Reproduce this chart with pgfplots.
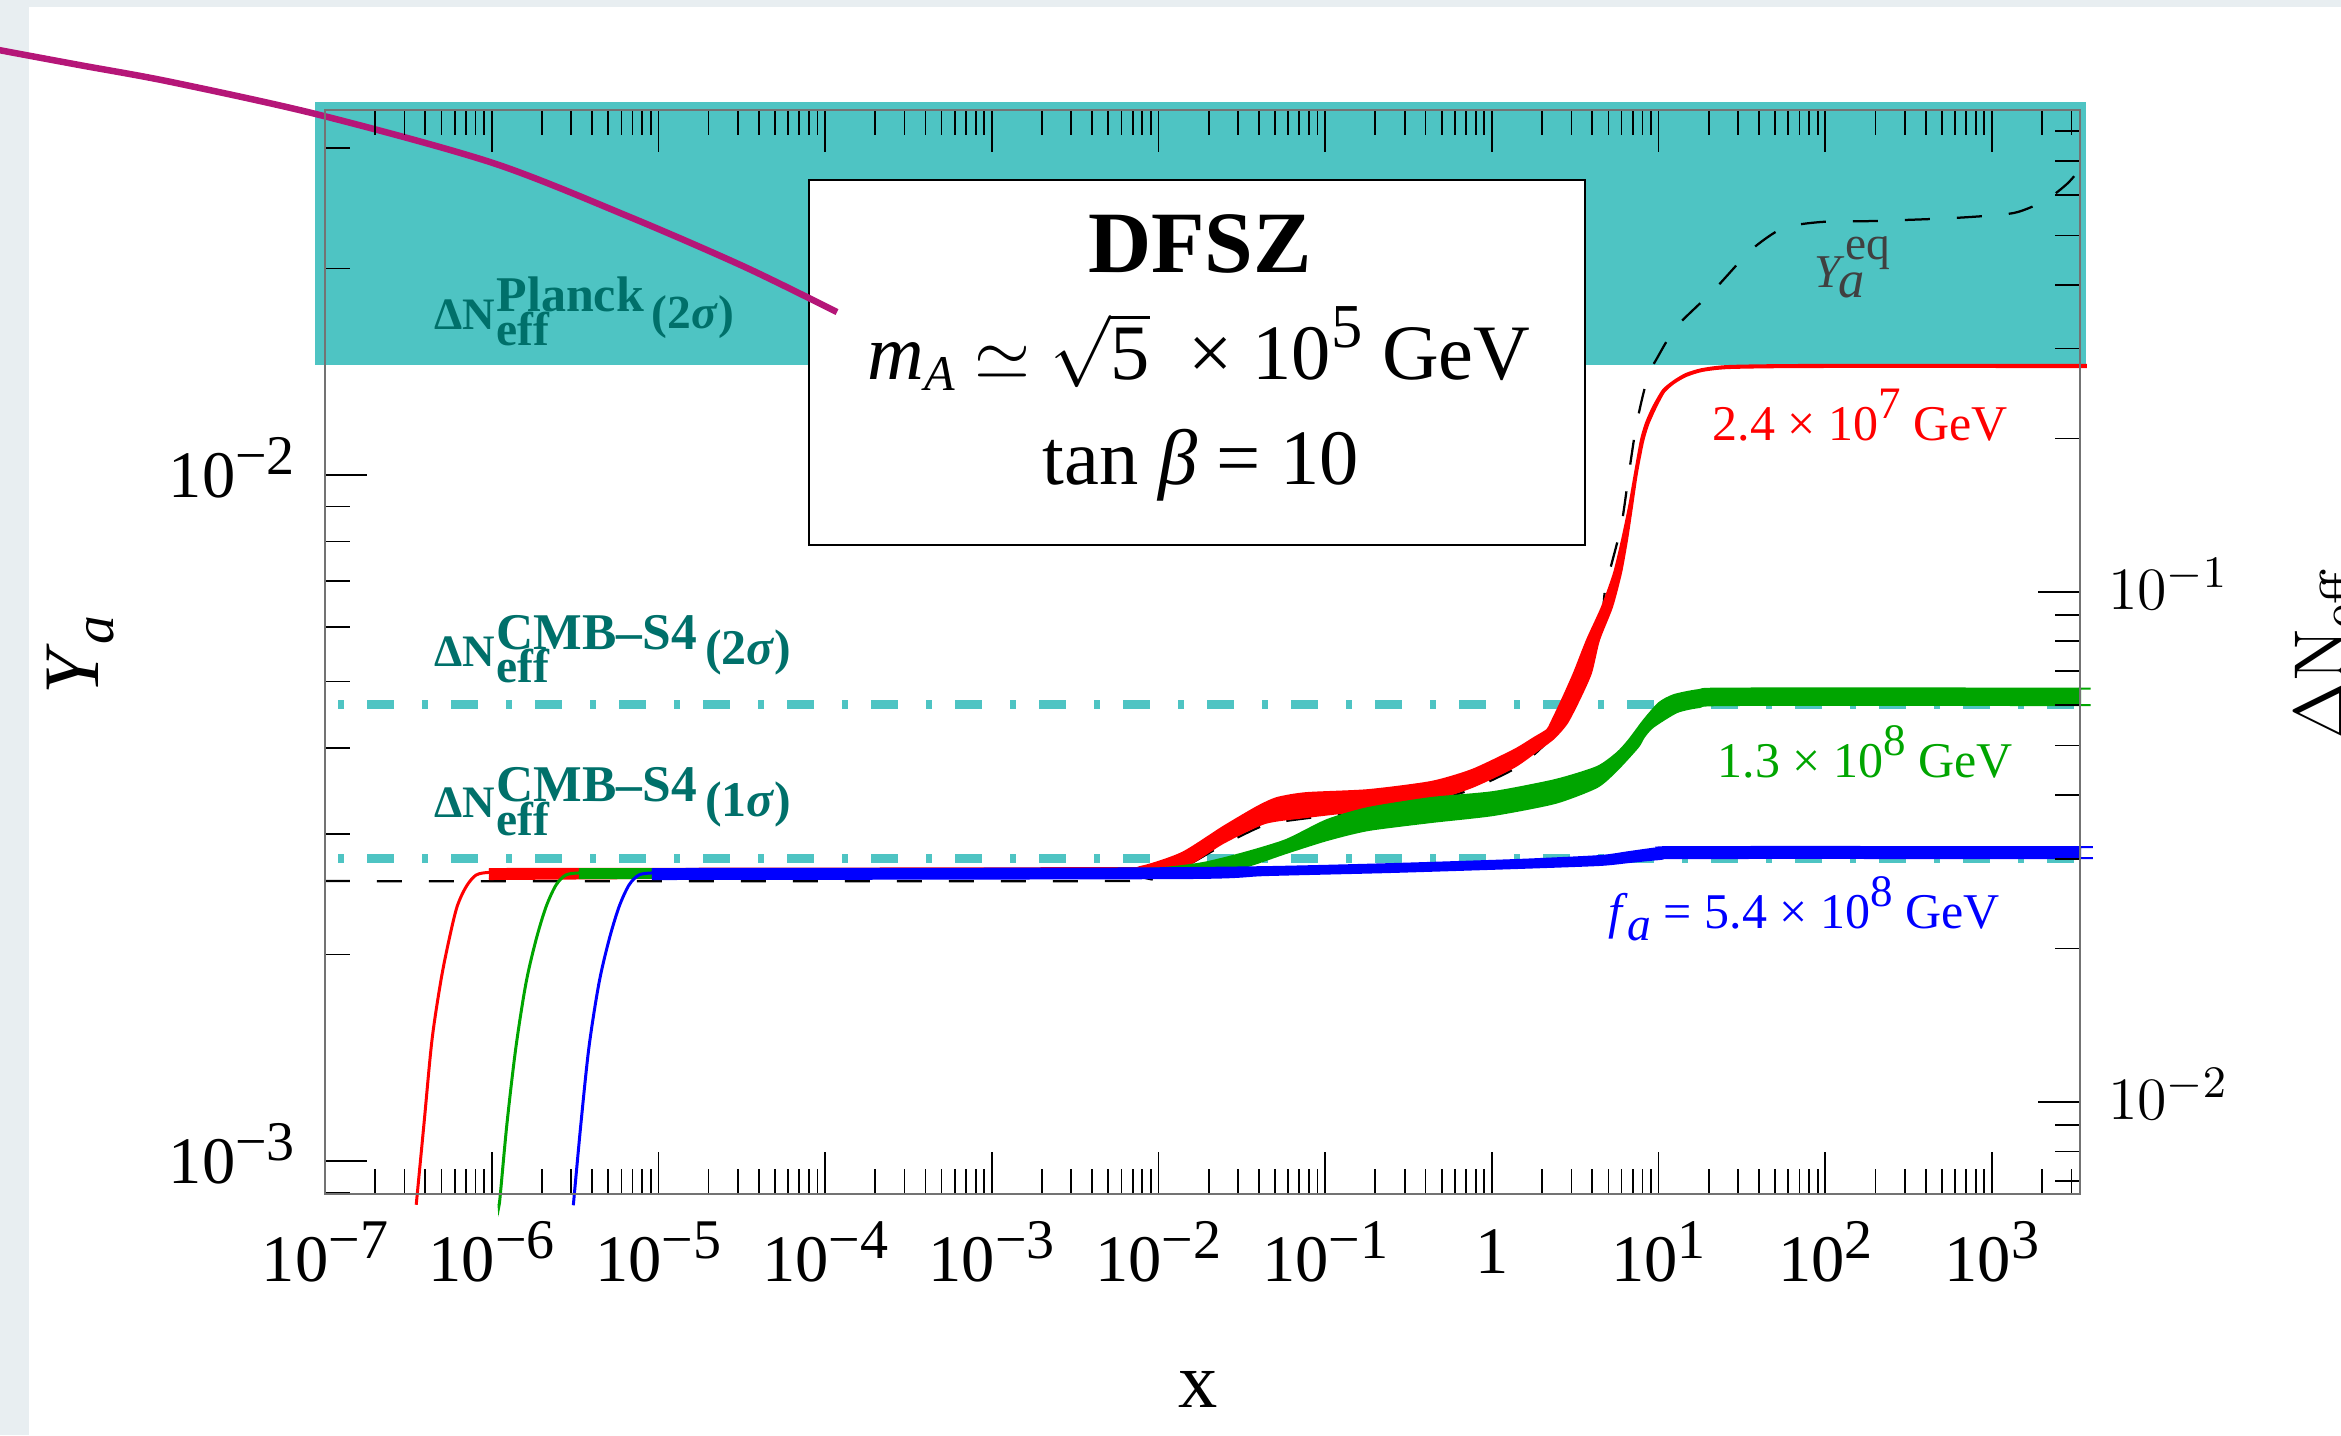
\documentclass[border=0pt]{standalone}
\usepackage[no-math]{fontspec}
\setmainfont{Liberation Serif}
\usepackage{graphicx}
\usepackage{pgfplots}
\pgfplotsset{compat=1.18}

\definecolor{band}{RGB}{78,196,195}
\definecolor{dteal}{RGB}{0,112,106}
\definecolor{mag}{RGB}{181,22,120}
\definecolor{mgreen}{RGB}{0,165,0}
\definecolor{bgstrip}{RGB}{232,238,241}
\definecolor{eqgray}{RGB}{64,64,64}

\newcommand{\tlab}[1]{{\fontsize{13.3}{14}\selectfont 10\raisebox{0.35em}{\fontsize{11.2}{12}\selectfont #1}}}
\newcommand{\supx}[1]{\raisebox{0.45em}{\fontsize{9}{9}\selectfont #1}}
\newcommand{\rlab}[1]{{\fontsize{12.4}{14}\selectfont$10^{#1}$}}
% #1 superscript, #2 its size, #3 raise, #4 subscript drop, #5 sigma text, #6 its size, #7 its raise
\newcommand{\dnlab}[7]{{\bfseries\fontsize{9}{10}\selectfont ΔN\kern0.4pt\rlap{\raisebox{-#4}{\fontsize{9.5}{10}\selectfont eff}}\raisebox{#3}{\fontsize{#2}{10}\selectfont #1}\kern1.6pt\raisebox{#7}{\fontsize{#6}{10}\selectfont (#5\textit{σ})}}}

\begin{document}
\begin{tikzpicture}
\useasboundingbox (0,0) rectangle (468.2pt,287pt);
\clip (0,0) rectangle (468.2pt,287pt);
\fill[bgstrip] (0,0) rectangle (5.8pt,287pt);
\fill[bgstrip] (0,285.6pt) rectangle (468.2pt,287pt);

\begin{axis}[
  at={(65pt,48.2pt)}, anchor=south west,
  width=351pt, height=216.8pt, scale only axis,
  xmode=log, ymode=log,
  xmin=1e-7, xmax=3373, ymin=8.952e-4, ymax=3.405e-2,
  axis on top, clip=false,
  axis line style={black!55, line width=0.45pt},
  tick style={black, line width=0.35pt},
  major tick length=8.5pt, minor tick length=5pt,
  tick align=inside,
  xtick pos=both, ytick pos=left,
  xtick={1e-7,1e-6,1e-5,1e-4,1e-3,1e-2,1e-1,1,1e1,1e2,1e3},
  xticklabels={\tlab{−7},\tlab{−6},\tlab{−5},\tlab{−4},\tlab{−3},\tlab{−2},\tlab{−1},{\fontsize{13.3}{14}\selectfont 1},\tlab{1},\tlab{2},\tlab{3}},
  minor xtick={2e-7,3e-7,4e-7,5e-7,6e-7,7e-7,8e-7,9e-7,
    2e-6,3e-6,4e-6,5e-6,6e-6,7e-6,8e-6,9e-6,
    2e-5,3e-5,4e-5,5e-5,6e-5,7e-5,8e-5,9e-5,
    2e-4,3e-4,4e-4,5e-4,6e-4,7e-4,8e-4,9e-4,
    2e-3,3e-3,4e-3,5e-3,6e-3,7e-3,8e-3,9e-3,
    2e-2,3e-2,4e-2,5e-2,6e-2,7e-2,8e-2,9e-2,
    0.2,0.3,0.4,0.5,0.6,0.7,0.8,0.9,
    2,3,4,5,6,7,8,9,
    20,30,40,50,60,70,80,90,
    200,300,400,500,600,700,800,900,
    2000,3000},
  ytick={1e-3,1e-2},
  yticklabels={\tlab{−3},\tlab{−2}},
  minor ytick={9e-4,2e-3,3e-3,4e-3,5e-3,6e-3,7e-3,8e-3,9e-3,2e-2,3e-2},
  xticklabel style={anchor=center, inner sep=0pt, yshift=-11.6pt},
  yticklabel style={anchor=east, inner sep=0pt, xshift=-5.8pt, yshift=1.5pt},
]
% Planck 2 sigma band
\addplot[fill=band, draw=none] coordinates {(8.71e-8,1.447e-2) (3664,1.447e-2) (3664,3.498e-2) (8.71e-8,3.498e-2)} -- cycle;
% CMB-S4 lines
\addplot[band, line width=1.8pt, dash pattern=on 1.2pt off 4.6pt on 5.4pt off 5.6pt] coordinates {(1.197e-7,4.636e-3) (3664,4.636e-3)};
\addplot[band, line width=1.8pt, dash pattern=on 1.2pt off 4.6pt on 5.4pt off 5.6pt] coordinates {(1.197e-7,2.765e-3) (3664,2.765e-3)};
% Y_a^eq
\addplot[black, line width=0.45pt, dash pattern=on 5pt off 5.4pt, smooth, tension=0.4] coordinates {
(1e-7,2.559e-3) (4.396e-3,2.559e-3) (8.770e-3,2.585e-3) (1.383e-2,2.673e-3) (2.437e-2,2.888e-3)
(4.354e-2,3.089e-3) (7.885e-2,3.162e-3) (1.370e-1,3.204e-3) (2.414e-1,3.259e-3) (4.312e-1,3.337e-3)
(7.597e-1,3.485e-3) (1.357,3.728e-3) (1.917,3.973e-3) (2.821,4.424e-3) (3.824,5.374e-3)
(4.576,6.147e-3) (4.80,6.844e-3) (5.949,8.399e-3) (6.643,1.0067e-2) (7.318,1.175e-2)
(8.061,1.308e-2) (8.756,1.408e-2) (9.647,1.471e-2) (12.72,1.643e-2) (21.49,1.861e-2)
(35.84,2.128e-2) (55.76,2.291e-2) (94.24,2.338e-2) (198.7,2.346e-2) (599.9,2.370e-2)
(1355,2.410e-2) (2108,2.517e-2) (2857,2.665e-2) (3664,2.860e-2)};
% red f_a = 2.4e7
\addplot[red, line width=0.6pt, smooth, tension=0.5] coordinates {
(3.529e-7,8.656e-4) (3.563e-7,8.862e-4) (3.93e-7,1.136e-3) (4.384e-7,1.501e-3) (4.965e-7,1.836e-3)
(5.545e-7,2.100e-3) (6.192e-7,2.346e-3) (7.011e-7,2.509e-3) (8.050e-7,2.611e-3) (9.634e-7,2.635e-3) (1.2e-6,2.630e-3)};
\addplot[red, fill=red, line width=0.4pt, smooth, tension=0.4] coordinates {
(9.634e-7,2.665e-3) (4.396e-3,2.673e-3) (7.747e-3,2.683e-3) (1.383e-2,2.812e-3) (2.437e-2,3.068e-3)
(3.899e-2,3.281e-3) (5.139e-2,3.382e-3) (7.670e-2,3.438e-3) (1.806e-1,3.473e-3) (4.312e-1,3.569e-3)
(7.597e-1,3.716e-3) (1.357,3.973e-3) (1.789,4.137e-3) (2.141,4.249e-3) (2.263,4.350e-3) (2.633,4.699e-3) (3.108,5.145e-3)
(3.720,5.747e-3) (4.576,6.422e-3) (5.401,7.196e-3) (6.032,8.038e-3) (6.643,8.983e-3)
(7.217,1.0067e-2) (7.841,1.125e-2) (8.403,1.191e-2) (9.255,1.256e-2) (10.63,1.330e-2)
(12.37,1.371e-2) (14.60,1.404e-2) (18.22,1.427e-2) (26.44,1.442e-2) (79.83,1.447e-2) (3000,1.447e-2) (3340,1.447e-2) (3373,1.447e-2)
(3373,1.437e-2) (3340,1.437e-2) (3000,1.437e-2) (79.83,1.437e-2) (26.44,1.432e-2) (18.22,1.418e-2) (14.60,1.394e-2)
(12.37,1.362e-2) (10.78,1.321e-2) (9.515,1.248e-2) (8.638,1.183e-2) (8.061,1.117e-2)
(7.420,1.0067e-2) (6.924,8.983e-3) (6.463,8.038e-3) (5.949,7.196e-3) (5.254,6.422e-3)
(4.390,5.747e-3) (3.931,5.145e-3) (3.329,4.699e-3) (2.821,4.350e-3) (2.358,4.137e-3) (1.891,3.973e-3)
(1.357,3.753e-3) (7.597e-1,3.509e-3) (4.312e-1,3.359e-3) (2.414e-1,3.281e-3) (1.370e-1,3.226e-3)
(7.670e-2,3.173e-3) (4.354e-2,3.110e-3) (2.437e-2,2.908e-3) (1.383e-2,2.673e-3) (7.747e-3,2.630e-3)
(4.396e-3,2.611e-3) (9.634e-7,2.577e-3)};
% green f_a = 1.3e8
\addplot[mgreen, line width=0.6pt, smooth, tension=0.5] coordinates {
(1.106e-6,8.656e-4) (1.1215e-6,8.833e-4) (1.236e-6,1.136e-3) (1.398e-6,1.466e-3) (1.606e-6,1.817e-3)
(1.844e-6,2.100e-3) (2.117e-6,2.346e-3) (2.431e-6,2.525e-3) (2.790e-6,2.612e-3) (3.339e-6,2.630e-3) (4e-6,2.625e-3)};
\addplot[mgreen, fill=mgreen, line width=0.4pt, smooth, tension=0.4] coordinates {
(3.339e-6,2.665e-3) (4.396e-3,2.665e-3) (1.035e-2,2.673e-3) (1.849e-2,2.719e-3) (3.258e-2,2.812e-3)
(5.820e-2,2.937e-3) (1.025e-1,3.141e-3) (1.806e-1,3.270e-3) (4.312e-1,3.382e-3) (1.015,3.450e-3)
(2.391,3.592e-3) (4.271,3.753e-3) (5.629,3.934e-3) (6.643,4.109e-3) (8.172,4.394e-3)
(10.06,4.652e-3) (12.37,4.778e-3) (17.47,4.859e-3) (27.56,4.884e-3) (3000,4.884e-3) (3340,4.884e-3) (3373,4.884e-3)
(3373,4.621e-3) (3340,4.621e-3) (3000,4.621e-3) (27.56,4.621e-3) (17.6,4.590e-3) (12.90,4.513e-3) (9.255,4.293e-3)
(8.172,4.151e-3) (7.523,4.013e-3) (5.629,3.716e-3) (4.271,3.509e-3) (2.391,3.326e-3)
(1.015,3.194e-3) (4.312e-1,3.120e-3) (1.806e-1,3.037e-3) (1.025e-1,2.937e-3) (5.820e-2,2.812e-3)
(3.258e-2,2.683e-3) (1.849e-2,2.630e-3) (1.035e-2,2.603e-3) (4.396e-3,2.594e-3) (3.339e-6,2.585e-3)};
% blue f_a = 5.4e8
\addplot[blue, line width=0.6pt, smooth, tension=0.5] coordinates {
(3.095e-6,8.656e-4) (3.117e-6,8.833e-4) (3.433e-6,1.136e-3) (3.834e-6,1.466e-3) (4.402e-6,1.817e-3)
(5.055e-6,2.100e-3) (5.803e-6,2.346e-3) (6.662e-6,2.525e-3) (7.649e-6,2.612e-3) (9.154e-6,2.630e-3) (1.1e-5,2.625e-3)};
\addplot[blue, fill=blue, line width=0.4pt, smooth, tension=0.4] coordinates {
(9.154e-6,2.665e-3) (4.396e-3,2.669e-3) (4.354e-2,2.682e-3) (2.414e-1,2.709e-3) (1.357,2.746e-3)
(4.390,2.783e-3) (6.643,2.821e-3) (10.06,2.859e-3) (15.22,2.869e-3) (3000,2.869e-3) (3340,2.869e-3) (3373,2.869e-3)
(3373,2.765e-3) (3340,2.765e-3) (3000,2.765e-3) (15.22,2.765e-3) (10.06,2.755e-3) (6.643,2.728e-3) (4.390,2.701e-3)
(1.357,2.673e-3) (2.414e-1,2.638e-3) (4.354e-2,2.611e-3) (1.383e-2,2.585e-3) (9.154e-6,2.577e-3)};
% info box
\draw[black, line width=0.45pt, fill=white] (axis cs:8.006e-5,7.907e-3) rectangle (axis cs:3.618,2.692e-2);
% magenta curve
\addplot[mag, line width=1.3pt, smooth, tension=0.5] coordinates {
(7.318e-10,4.249e-2) (1.108e-9,4.164e-2) (3.344e-9,3.961e-2) (1.192e-8,3.741e-2) (9.333e-8,3.348e-2)
(1.018e-6,2.850e-2) (6.753e-6,2.377e-2) (3.307e-5,2.010e-2) (1.179e-4,1.728e-2)};
\end{axis}

\begin{axis}[
  at={(65pt,48.2pt)}, anchor=south west,
  width=351pt, height=216.8pt, scale only axis,
  xmin=1, xmax=10, ymode=log, ymin=6.60e-3, ymax=0.881,
  hide x axis,
  axis line style={black!55, line width=0.45pt},
  tick style={black, line width=0.35pt},
  major tick length=8.5pt, minor tick length=5pt,
  tick align=inside,
  ytick pos=right, yticklabel pos=right,
  ytick={0.01,0.1},
  yticklabels={\rlab{-2},\rlab{-1}},
  minor ytick={7e-3,8e-3,9e-3,2e-2,3e-2,4e-2,5e-2,6e-2,7e-2,8e-2,9e-2,0.2,0.3,0.4,0.5,0.6,0.7,0.8},
  yticklabel style={anchor=west, inner sep=0pt, xshift=5.4pt, yshift=1.6pt},
]
\end{axis}

\begin{scope}[x=0.2pt, y=-0.2pt, shift={(0pt,287pt)}]
% box text
\node[anchor=base, inner sep=0] at (1200,273) {\fontsize{17.5}{20}\selectfont\bfseries DFSZ};
\node[anchor=base, inner sep=0] at (1199,380) {\fontsize{15.7}{18}\selectfont \textit{m}\raisebox{-0.13em}{\fontsize{10}{10}\selectfont\textit{A}}\ $\simeq$\ $\sqrt{\hbox{5}}$\ \ ×\ 10\raisebox{0.42em}{\fontsize{12.5}{12}\selectfont 5}\ GeV};
\node[anchor=base, inner sep=0] at (1201,485) {\fontsize{15.7}{18}\selectfont tan \textit{β} = 10};
% curve labels
\node[anchor=base west, inner sep=0, text=red] at (1712,441) {\fontsize{10}{12}\selectfont 2.4 × 10\supx{7} GeV};
\node[anchor=base west, inner sep=0, text=mgreen] at (1717,778) {\fontsize{10}{12}\selectfont 1.3 × 10\supx{8} GeV};
\node[anchor=base west, inner sep=0, text=blue] at (1607,929) {\fontsize{10}{12}\selectfont \textit{f}\raisebox{-0.23em}{\fontsize{9.5}{10}\selectfont\textit{a}} = 5.4 × 10\supx{8} GeV};
% Y_a^eq
\node[anchor=base west, inner sep=0, text=eqgray] at (1814,288) {\fontsize{9.4}{10}\selectfont\itshape Y\kern-0.6pt\rlap{\raisebox{-2pt}{\fontsize{10.5}{10}\selectfont a}}\kern1.4pt\raisebox{5.6pt}{\fontsize{9.5}{10}\selectfont\upshape eq}};
% Delta N labels
\node[anchor=base west, inner sep=0, text=dteal] at (433,330) {\dnlab{Planck}{10}{3.6pt}{3.2pt}{2}{9.5}{0.2pt}};
\node[anchor=base west, inner sep=0, text=dteal] at (433,667) {\dnlab{CMB–S4}{10.3}{3.4pt}{3.2pt}{2}{10}{0.4pt}};
\node[anchor=base west, inner sep=0, text=dteal] at (433,818) {\dnlab{CMB–S4}{10.3}{3.2pt}{3.6pt}{1}{10}{0.2pt}};
% axis labels
\node[anchor=base, inner sep=0] at (1198,1408) {\fontsize{15.7}{18}\selectfont x};
\node[rotate=90, anchor=base, inner sep=0] at (98,655) {\fontsize{15.7}{18}\selectfont\textit{Y}\raisebox{-0.2em}{\fontsize{11.5}{12}\selectfont\textit{a}}};
\node[rotate=90, anchor=base, inner sep=0] at (2345,653) {\fontsize{15.7}{18}\selectfont$\Delta\mathrm{N}_{\mathrm{eff}}$};
\end{scope}
\end{tikzpicture}
\end{document}
